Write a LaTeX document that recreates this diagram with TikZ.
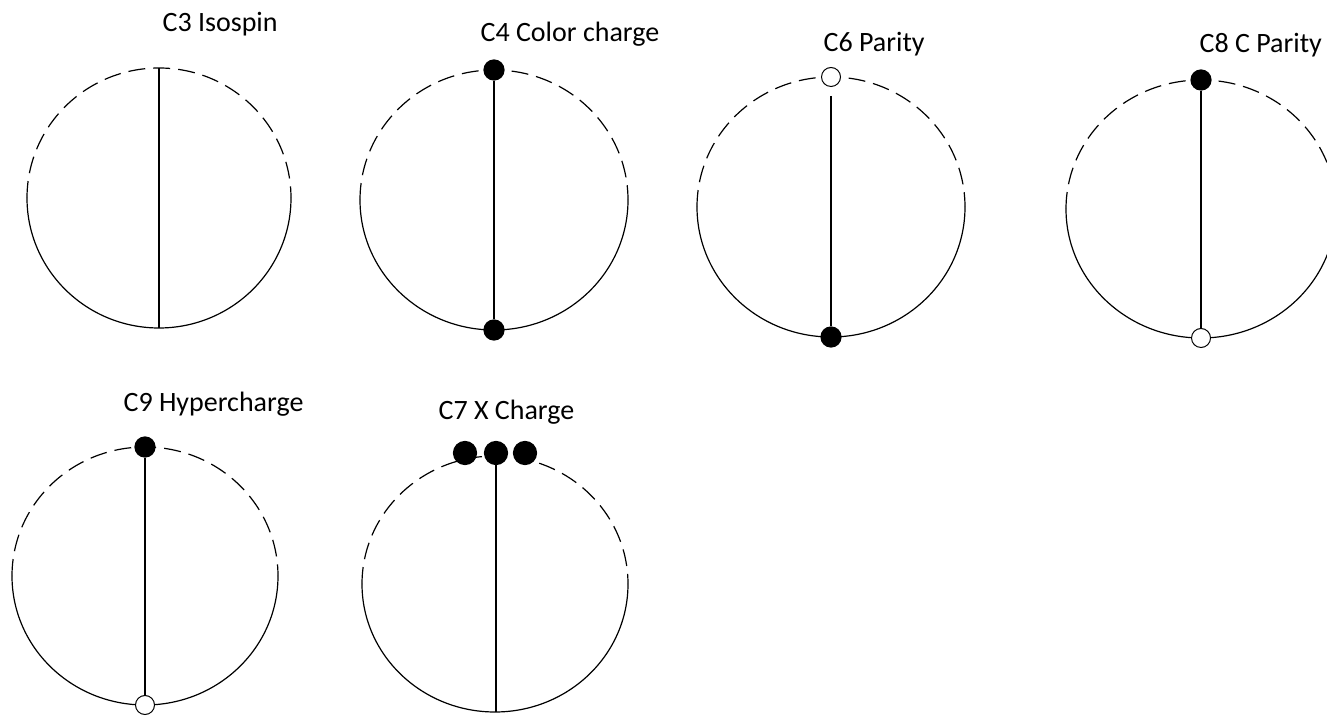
\documentclass[tikz,border=0pt]{standalone}
\usepackage{fontspec}
\setmainfont{Carlito}

\tikzset{
  full/.style={circle, fill=black, draw=black, inner sep=0pt, minimum size=20pt},
  hollow/.style={circle, fill=white, draw=black, line width=1pt, inner sep=0pt, minimum size=19pt},
  upper/.style={dash pattern=on 17pt off 8pt},
}

\begin{document}
\begin{tikzpicture}[x=1pt,y=1pt,line width=1.2pt]
    \useasboundingbox (0,0) rectangle (1327,717);
    \clip (0,0) rectangle (1327,717);
    % names
    \begin{scope}[every node/.style={anchor=base west, inner sep=0pt, font=\fontsize{28}{32}\selectfont}]
        \node (C3name) at (162,685) {C3 Isospin};
        \node (C4name) at (480,675) {C4 Color charge};
        \node (C6name) at (823,665) {C6 Parity};
        \node (C8name) at (1199,664) {C8 C Parity};
        \node (C9name) at (123,305) {C9 Hypercharge};
        \node (C7name) at (438,297) {C7 X Charge};
    \end{scope}
    % circles: upper half dashed, lower half solid
    \draw[upper] (27,519) arc[start angle=180, end angle=0, x radius=132, y radius=130];
    \draw (27,519) arc[start angle=180, end angle=360, x radius=132, y radius=130];
    \draw[upper] (360,517) arc[start angle=180, end angle=0, x radius=134, y radius=130];
    \draw (360,517) arc[start angle=180, end angle=360, x radius=134, y radius=130];
    \draw[upper] (697,510) arc[start angle=180, end angle=0, x radius=134, y radius=130];
    \draw (697,510) arc[start angle=180, end angle=360, x radius=134, y radius=130];
    \draw[upper] (1066,508) arc[start angle=180, end angle=0, x radius=135, y radius=129];
    \draw (1066,508) arc[start angle=180, end angle=360, x radius=135, y radius=129];
    \draw[upper] (12,141) arc[start angle=180, end angle=0, x radius=133, y radius=129];
    \draw (12,141) arc[start angle=180, end angle=360, x radius=133, y radius=129];
    \draw[upper] (362,133) arc[start angle=180, end angle=0, x radius=133, y radius=128];
    \draw (362,133) arc[start angle=180, end angle=360, x radius=133, y radius=128];
    % ends of the chords
    \coordinate (C3top) at (159,649);
    \coordinate (C3bot) at (159,389);
    \coordinate (C7bot) at (496,5);
    \node[full] (C4top) at (494,647) {};
    \node[full] (C4bot) at (494,387) {};
    \node[hollow] (C6top) at (831,640) {};
    \node[full] (C6bot) at (831,380) {};
    \node[full] (C8top) at (1201,637) {};
    \node[hollow] (C8bot) at (1201,379) {};
    \node[full] (C9top) at (145,270) {};
    \node[hollow] (C9bot) at (145,12) {};
    \begin{scope}[every node/.style={full, minimum size=23pt}]
        \node (C7left) at (465,264) {};
        \node (C7mid) at (496,264) {};
        \node (C7right) at (525,264) {};
    \end{scope}
    % chords
    \begin{scope}[line width=1.5pt]
        \draw (C3top) -- (C3bot);
        \draw (C4top) -- (C4bot);
        \draw[shorten <=9pt] (C6top) -- (C6bot);
        \draw (C8top) -- (C8bot);
        \draw (C9top) -- (C9bot);
        \draw (C7mid) -- (C7bot);
    \end{scope}
\end{tikzpicture}
\end{document}
